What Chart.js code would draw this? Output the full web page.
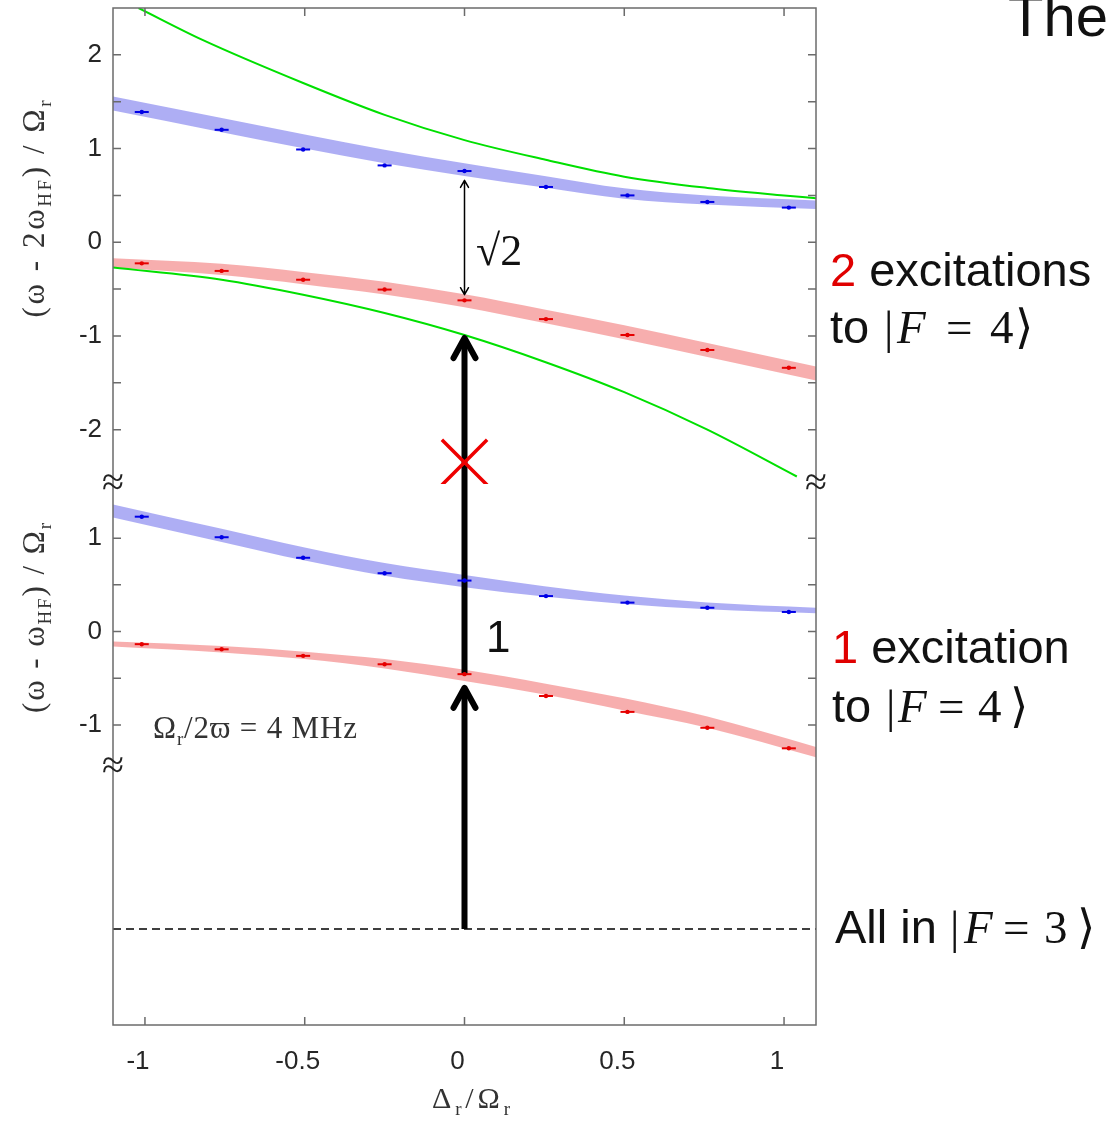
<!DOCTYPE html>
<html>
<head>
<meta charset="utf-8">
<script src="https://cdn.jsdelivr.net/npm/chart.js@4.4.0/dist/chart.umd.min.js"></script>
<style>
  html, body { margin: 0; padding: 0; background: #fff; }
  #wrap { position: relative; width: 1107px; height: 1128px; overflow: hidden; }
  #wrap canvas { position: absolute; left: 0; top: 0; }
  #labels { position: absolute; left: 0; top: 0; pointer-events: none; }
</style>
</head>
<body>
<div id="wrap">
  <canvas id="graph" width="1107" height="1128"></canvas>
  <svg id="labels" width="1107" height="1128" xmlns="http://www.w3.org/2000/svg">
    <g font-family="'Liberation Serif', 'Times New Roman', serif" fill="#333">
      <text transform="translate(44,209) rotate(-90)" text-anchor="middle" font-size="31" textLength="217">(ω - 2ω<tspan font-size="19" dy="7">HF</tspan><tspan dy="-7">) / Ω</tspan><tspan font-size="19" dy="7">r</tspan></text>
      <text transform="translate(44,618) rotate(-90)" text-anchor="middle" font-size="31" textLength="190">(ω - ω<tspan font-size="19" dy="7">HF</tspan><tspan dy="-7">) / Ω</tspan><tspan font-size="19" dy="7">r</tspan></text>
      <text x="471" y="1108" text-anchor="middle" font-size="30" textLength="78">Δ<tspan font-size="19" dy="7">r</tspan><tspan dy="-7">/Ω</tspan><tspan font-size="19" dy="7">r</tspan></text>
      <text x="153" y="738" font-size="31" textLength="204">Ω<tspan font-size="19" dy="7">r</tspan><tspan dy="-7">/2ϖ = 4 MHz</tspan></text>
      <text x="476" y="265" font-size="44" fill="#111">√2</text>
    </g>
    <g font-family="'Liberation Sans', Arial, sans-serif" fill="#111">
      <text x="1008" y="36" font-size="58">The</text>
      <text x="486" y="652" font-size="44">1</text>
      <text x="830" y="286" font-size="47"><tspan fill="#e00000">2</tspan> excitations</text>
      <text y="343" font-size="47"><tspan x="830">to</tspan><tspan x="884" style="font-family:'Liberation Serif',serif">|</tspan><tspan x="897" style="font-family:'Liberation Serif',serif;font-style:italic">F</tspan><tspan x="946" style="font-family:'Liberation Serif',serif">=</tspan><tspan x="990" style="font-family:'Liberation Serif',serif">4</tspan><tspan x="1015" style="font-family:'DejaVu Serif',serif">⟩</tspan></text>
      <text x="832" y="663" font-size="47"><tspan fill="#e00000">1</tspan> excitation</text>
      <text y="722" font-size="47"><tspan x="832">to</tspan><tspan x="886" style="font-family:'Liberation Serif',serif">|</tspan><tspan x="898" style="font-family:'Liberation Serif',serif;font-style:italic">F</tspan><tspan x="938" style="font-family:'Liberation Serif',serif">=</tspan><tspan x="978" style="font-family:'Liberation Serif',serif">4</tspan><tspan x="1010" style="font-family:'DejaVu Serif',serif">⟩</tspan></text>
      <text y="943" font-size="47"><tspan x="835">All in</tspan><tspan x="950" style="font-family:'Liberation Serif',serif">|</tspan><tspan x="964" style="font-family:'Liberation Serif',serif;font-style:italic">F</tspan><tspan x="1003" style="font-family:'Liberation Serif',serif">=</tspan><tspan x="1044" style="font-family:'Liberation Serif',serif">3</tspan><tspan x="1077" style="font-family:'DejaVu Serif',serif">⟩</tspan></text>
    </g>
  </svg>
</div>
<script>
// Messpunkte: Verstimmung Δr/Ωr (gleich für alle vier Serien)
const detuning = [-1.01, -0.76, -0.505, -0.25, 0, 0.255, 0.51, 0.76, 1.015];
const twoExcHigh = [1.39, 1.2, 0.99, 0.82, 0.76, 0.59, 0.5, 0.43, 0.37];
const twoExcLow = [-0.225, -0.306, -0.4, -0.505, -0.62, -0.82, -0.99, -1.15, -1.34];
const oneExcHigh = [1.23, 1.01, 0.79, 0.625, 0.546, 0.38, 0.31, 0.255, 0.21];
const oneExcLow = [-0.135, -0.19, -0.26, -0.35, -0.456, -0.69, -0.86, -1.03, -1.25];

// Theorie-Bänder (obere / untere Kante)
const bandX = [-1.1, -0.76, -0.5, -0.25, 0, 0.25, 0.5, 0.76, 1.1];
const twoHighTop = [1.555, 1.325, 1.15, 0.987, 0.843, 0.707, 0.575, 0.498, 0.445];
const twoHighBottom = [1.405, 1.175, 1.0, 0.843, 0.707, 0.583, 0.465, 0.402, 0.355];
const twoLowTop = [-0.17, -0.23, -0.32, -0.422, -0.555, -0.717, -0.885, -1.075, -1.325];
const twoLowBottom = [-0.27, -0.35, -0.45, -0.558, -0.695, -0.863, -1.035, -1.225, -1.475];
const oneHighTop = [1.36, 1.1, 0.9, 0.733, 0.605, 0.485, 0.385, 0.312, 0.255];
const oneHighBottom = [1.22, 0.96, 0.76, 0.597, 0.475, 0.375, 0.295, 0.238, 0.195];
const oneLowTop = [-0.107, -0.155, -0.215, -0.295, -0.41, -0.555, -0.715, -0.91, -1.235];
const oneLowBottom = [-0.161, -0.225, -0.295, -0.395, -0.53, -0.675, -0.845, -1.03, -1.345];

// grüne Kurven (nur oberes Panel)
const greenHighX = [-1.02, -0.82, -0.505, -0.25, 0, 0.254, 0.5, 0.76, 1.0, 1.1];
const greenHighY = [2.5, 2.16, 1.7, 1.36, 1.09, 0.88, 0.7, 0.58, 0.5, 0.47];
const greenLowX = [-1.1, -0.76, -0.505, -0.25, 0, 0.254, 0.5, 0.76, 1.04];
const greenLowY = [-0.27, -0.4, -0.56, -0.755, -0.99, -1.28, -1.6, -2.0, -2.5];

// Grundzustand, Pfeile und blockierter Übergang
const groundLevel = 0.372;
const pumpX = 0;
const pumpArrows = [
  { fromAxis: 'yB', from: groundLevel, toAxis: 'yM', to: -0.57 },
  { fromAxis: 'yM', from: -0.46, toAxis: 'yT', to: -0.99 },
];
const gapArrow = { axis: 'yT', from: -0.56, to: 0.66 };
const blocked = [{ x: 0, y: -2.35 }];

// Achsen-Ticks
const xTicks = [-1, -0.5, 0, 0.5, 1];
const yTopTicks = [-2, -1.5, -1, -0.5, 0, 0.5, 1, 1.5, 2];
const yMidTicks = [-1, -0.5, 0, 0.5, 1];

function pts(xs, ys) {
  return xs.map((x, i) => ({ x: x, y: ys[i] }));
}

function band(top, bottom, axis, color) {
  return [
    { type: 'line', data: pts(bandX, top), yAxisID: axis, borderWidth: 0, pointRadius: 0,
      fill: false, cubicInterpolationMode: 'monotone', order: 10 },
    { type: 'line', data: pts(bandX, bottom), yAxisID: axis, borderWidth: 0, pointRadius: 0,
      fill: '-1', backgroundColor: color, cubicInterpolationMode: 'monotone', order: 10 },
  ];
}

function markers(ys, axis, color) {
  return [
    { type: 'scatter', data: pts(detuning, ys), yAxisID: axis, pointStyle: 'line', pointRadius: 7,
      pointBorderColor: color, pointBorderWidth: 2, order: 2 },
    { type: 'scatter', data: pts(detuning, ys), yAxisID: axis, pointStyle: 'circle', pointRadius: 2.2,
      pointBackgroundColor: color, pointBorderWidth: 0, order: 1 },
  ];
}

const blueBand = 'rgba(160, 160, 242, 0.85)';
const redBand = 'rgba(246, 160, 160, 0.85)';
const blue = '#0000e6';
const red = '#e60000';

const datasets = [
  ...band(twoHighTop, twoHighBottom, 'yT', blueBand),
  ...band(twoLowTop, twoLowBottom, 'yT', redBand),
  ...band(oneHighTop, oneHighBottom, 'yM', blueBand),
  ...band(oneLowTop, oneLowBottom, 'yM', redBand),
  { type: 'line', data: pts(greenHighX, greenHighY), yAxisID: 'yT', borderColor: '#00e000',
    borderWidth: 2, pointRadius: 0, fill: false, cubicInterpolationMode: 'monotone', order: 8 },
  { type: 'line', data: pts(greenLowX, greenLowY), yAxisID: 'yT', borderColor: '#00e000',
    borderWidth: 2, pointRadius: 0, fill: false, cubicInterpolationMode: 'monotone', order: 8 },
  { type: 'line', data: [{ x: -1.1, y: groundLevel }, { x: 1.1, y: groundLevel }], yAxisID: 'yB',
    borderColor: '#000', borderWidth: 1.5, borderDash: [8, 5], pointRadius: 0, fill: false,
    order: 7, isGround: true },
  ...markers(twoExcHigh, 'yT', blue),
  ...markers(twoExcLow, 'yT', red),
  ...markers(oneExcHigh, 'yM', blue),
  ...markers(oneExcLow, 'yM', red),
  { type: 'scatter', data: blocked, yAxisID: 'yT', pointStyle: 'crossRot', pointRadius: 32,
    pointBorderColor: '#ee0000', pointBorderWidth: 3.5, order: 0 },
];

// Pfeile direkt nach der gestrichelten Linie zeichnen (unter den Messpunkten)
const arrowPlugin = {
  id: 'pumpArrows',
  afterDatasetDraw(chart, args) {
    if (!chart.data.datasets[args.index].isGround) return;
    const c = chart.ctx;
    const s = chart.scales;
    const px = s.x.getPixelForValue(pumpX);
    c.save();
    c.strokeStyle = '#000';
    pumpArrows.forEach((a) => {
      const y0 = s[a.fromAxis].getPixelForValue(a.from);
      const y1 = s[a.toAxis].getPixelForValue(a.to);
      c.lineWidth = 6;
      c.lineCap = 'butt';
      c.beginPath();
      c.moveTo(px, y0);
      c.lineTo(px, y1 + 6);
      c.stroke();
      c.lineJoin = 'round';
      c.lineCap = 'round';
      c.beginPath();
      c.moveTo(px - 11, y1 + 23);
      c.lineTo(px, y1 + 3);
      c.lineTo(px + 11, y1 + 23);
      c.stroke();
    });

    const g0 = s[gapArrow.axis].getPixelForValue(gapArrow.from);
    const g1 = s[gapArrow.axis].getPixelForValue(gapArrow.to);
    c.lineWidth = 1.5;
    c.beginPath();
    c.moveTo(px, g0);
    c.lineTo(px, g1);
    c.moveTo(px - 4, g1 + 7);
    c.lineTo(px, g1);
    c.lineTo(px + 4, g1 + 7);
    c.moveTo(px - 4, g0 - 7);
    c.lineTo(px, g0);
    c.lineTo(px + 4, g0 - 7);
    c.stroke();
    c.restore();
  },
};

// Rahmen mit Ticks nach innen (MATLAB-Stil) und Achsenbrüchen
const framePlugin = {
  id: 'frame',
  afterDatasetsDraw(chart) {
    const c = chart.ctx;
    const a = chart.chartArea;
    const s = chart.scales;
    c.save();
    c.strokeStyle = '#6b6b6b';
    c.lineWidth = 1.5;
    c.strokeRect(a.left, a.top, a.right - a.left, a.bottom - a.top);
    c.beginPath();
    [['yT', yTopTicks], ['yM', yMidTicks]].forEach(([id, vals]) => {
      vals.forEach((v) => {
        const y = s[id].getPixelForValue(v);
        c.moveTo(a.left, y);
        c.lineTo(a.left + 8, y);
        c.moveTo(a.right, y);
        c.lineTo(a.right - 8, y);
      });
    });
    xTicks.forEach((v) => {
      const x = s.x.getPixelForValue(v);
      c.moveTo(x, a.top);
      c.lineTo(x, a.top + 8);
      c.moveTo(x, a.bottom);
      c.lineTo(x, a.bottom - 8);
    });
    c.stroke();

    c.fillStyle = '#222';
    c.font = '40px "Liberation Serif", serif';
    c.textAlign = 'center';
    c.textBaseline = 'middle';
    c.fillText('≈', a.left, s.yT.bottom);
    c.fillText('≈', a.right, s.yT.bottom);
    c.fillText('≈', a.left, s.yM.bottom);
    c.restore();
  },
};

function fitY(scale) {
  scale.width = 113;
  scale.paddingTop = 0;
  scale.paddingBottom = 0;
}

const tickFont = { family: "'Liberation Sans', Arial, sans-serif", size: 26 };
const intLabel = (v) => (Number.isInteger(v) ? String(v) : '');

Chart.defaults.font.family = "'Liberation Sans', Arial, sans-serif";

const ctx = document.getElementById('graph').getContext('2d');

const chart = new Chart(ctx, {
  type: 'scatter',
  data: { datasets: datasets },
  options: {
    responsive: false,
    animation: false,
    events: [],
    layout: { autoPadding: false, padding: { top: 8, right: 291, left: 0, bottom: 0 } },
    plugins: {
      legend: { display: false },
      tooltip: { enabled: false },
    },
    scales: {
      x: {
        type: 'linear',
        min: -1.1,
        max: 1.1,
        grid: { display: false, drawTicks: false },
        border: { display: false },
        afterBuildTicks: (s) => {
          s.ticks = xTicks.map((v) => ({ value: v }));
        },
        ticks: {
          callback: (v) => String(v),
          padding: 21,
          labelOffset: -7,
          font: tickFont,
          color: '#262626',
          autoSkip: false,
          maxRotation: 0,
        },
        afterFit: (s) => {
          s.height = 103;
          s.paddingLeft = 0;
          s.paddingRight = 0;
        },
      },
      yB: {
        type: 'linear',
        position: 'left',
        stack: 'levels',
        stackWeight: 258,
        min: 0,
        max: 1,
        grid: { display: false, drawTicks: false },
        border: { display: false },
        ticks: { display: false },
        afterFit: fitY,
      },
      yM: {
        type: 'linear',
        position: 'left',
        stack: 'levels',
        stackWeight: 283,
        min: -1.45,
        max: 1.58,
        grid: { display: false, drawTicks: false },
        border: { display: false },
        afterBuildTicks: (s) => {
          s.ticks = yMidTicks.map((v) => ({ value: v }));
        },
        ticks: { callback: intLabel, padding: 11, font: tickFont, color: '#262626', autoSkip: false },
        afterFit: fitY,
      },
      yT: {
        type: 'linear',
        position: 'left',
        stack: 'levels',
        stackWeight: 476,
        min: -2.58,
        max: 2.5,
        grid: { display: false, drawTicks: false },
        border: { display: false },
        afterBuildTicks: (s) => {
          s.ticks = yTopTicks.map((v) => ({ value: v }));
        },
        ticks: { callback: intLabel, padding: 11, font: tickFont, color: '#262626', autoSkip: false },
        afterFit: fitY,
      },
    },
  },
  plugins: [arrowPlugin, framePlugin],
});
</script>
</body>
</html>
